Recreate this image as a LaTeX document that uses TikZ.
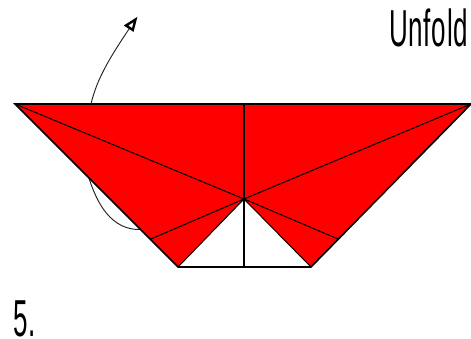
\documentclass[tikz,border=0pt]{standalone}
\usepackage{fontspec}
\setmainfont[FakeStretch=0.5,LetterSpace=1.5]{Liberation Sans}
\definecolor{foldred}{RGB}{255,0,0}
\tikzset{
  foldpaper/.style={line width=1.6pt,line join=miter},
  crease/.style={draw=black,line width=1.05pt},
  motion/.style={draw=black!85,line width=0.95pt},
  fliphead/.style={draw=black,fill=white,line width=2.4pt,line join=miter},
  label/.style={inner sep=0pt,outer sep=0pt,font=\fontsize{52}{52}\selectfont}
}
\begin{document}
\begin{tikzpicture}[x=1pt,y=-1pt]
\useasboundingbox (0,0) rectangle (471,339);
% coordinates
\coordinate (TL) at (15,104);
\coordinate (TR) at (471,104);
\coordinate (TM) at (244,104);
\coordinate (BL) at (178,267);
\coordinate (BR) at (311,267);
\coordinate (BM) at (244,267);
\coordinate (C) at (244,199);
\coordinate (EL) at (151,239);
\coordinate (ER) at (338,239);
\coordinate (A0) at (91,104);
\coordinate (A1) at (129,29);
\coordinate (L0) at (88,175);
\coordinate (L1) at (140,229.5);
% lower curve, behind the paper
\draw[motion] (L0) .. controls (97,205) and (112,230) .. (L1);
% paper
\fill[foldred] (TL) -- (TR) -- (BR) -- (BL) -- cycle;
\fill[white] (C) -- (BR) -- (BL) -- cycle;
% creases
\draw[crease] (TL) -- (C) -- (TR);
\draw[crease] (EL) -- (C) -- (ER);
\draw[crease] (TM) -- (BM);
\draw[crease] (C) -- (BL);
\draw[crease] (C) -- (BR);
\draw[foldpaper] (TL) -- (TR) -- (BR) -- (BL) -- cycle;
% arrow
\draw[motion] (A0) .. controls (97,78) and (111,56) .. (A1);
\draw[fliphead] (135.5,19.5) -- (126,25.5) -- (132.8,30) -- cycle;
% labels
\node[label,anchor=base west] (unfold) at (389,47) {Unfold};
\node[label,anchor=base west] (step5) at (13,336.5) {5.};
\end{tikzpicture}
\end{document}
